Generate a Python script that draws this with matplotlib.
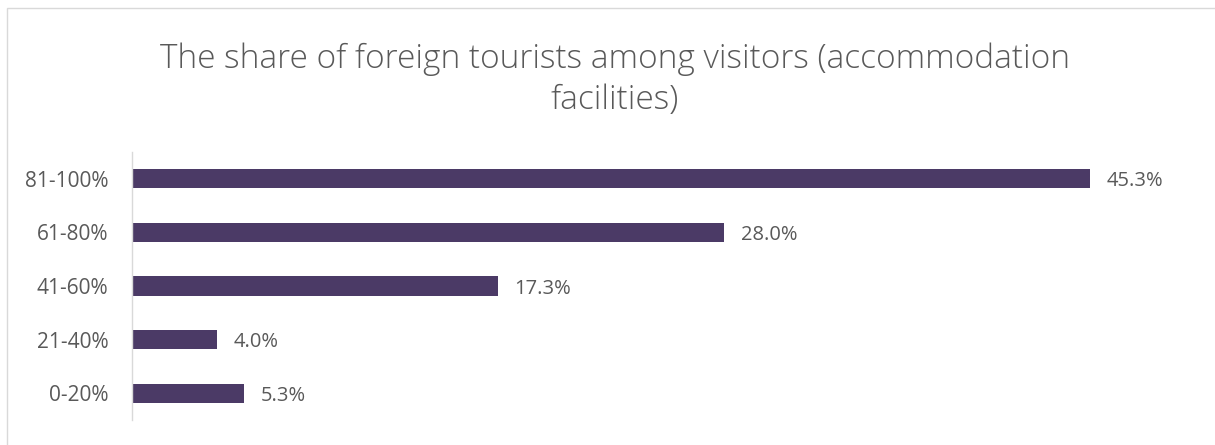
import matplotlib.pyplot as plt
from matplotlib.patches import Rectangle

categories = ["0-20%", "21-40%", "41-60%", "61-80%", "81-100%"]
shares = [5.3, 4.0, 17.3, 28.0, 45.3]

BAR_COLOR = "#4b3a66"
TEXT_COLOR = "#595959"
FONT = ["Open Sans", "DejaVu Sans"]

fig = plt.figure(figsize=(12.15, 4.45), dpi=100)
ax = fig.add_axes([132 / 1215, 25 / 445, 1057 / 1215, 268 / 445])

ypos = range(len(categories))
ax.barh(ypos, shares, height=0.36, color=BAR_COLOR)
for y, v in zip(ypos, shares):
    ax.text(v + 0.8, y, f"{v:.1f}%", va="center_baseline", ha="left",
            fontsize=14.5, color=TEXT_COLOR, family=FONT)

ax.set_xlim(0, 50)
ax.set_ylim(-0.5, 4.5)
ax.set_yticks(list(ypos))
ax.set_yticklabels(categories, fontsize=15, color=TEXT_COLOR, family=FONT,
                   va="center_baseline")
ax.tick_params(axis="y", length=0, pad=17)
ax.set_xticks([])
for side in ["top", "right", "bottom"]:
    ax.spines[side].set_visible(False)
ax.spines["left"].set_color("#d9d9d9")
ax.spines["left"].set_linewidth(1)

fig.text(615 / 1215, 1 - 80 / 445, "The share of foreign tourists among visitors (accommodation\nfacilities)",
         ha="center", va="center", fontsize=24, color=TEXT_COLOR,
         family=FONT, fontweight="light", linespacing=1.3)

# light frame around the chart area
fig.patches.append(Rectangle((7 / 1215, -0.01), 1.1, 1 - 8 / 445 + 0.01,
                             transform=fig.transFigure, fill=False,
                             edgecolor="#d9d9d9", linewidth=1))

fig.savefig("out.png", dpi=100)
